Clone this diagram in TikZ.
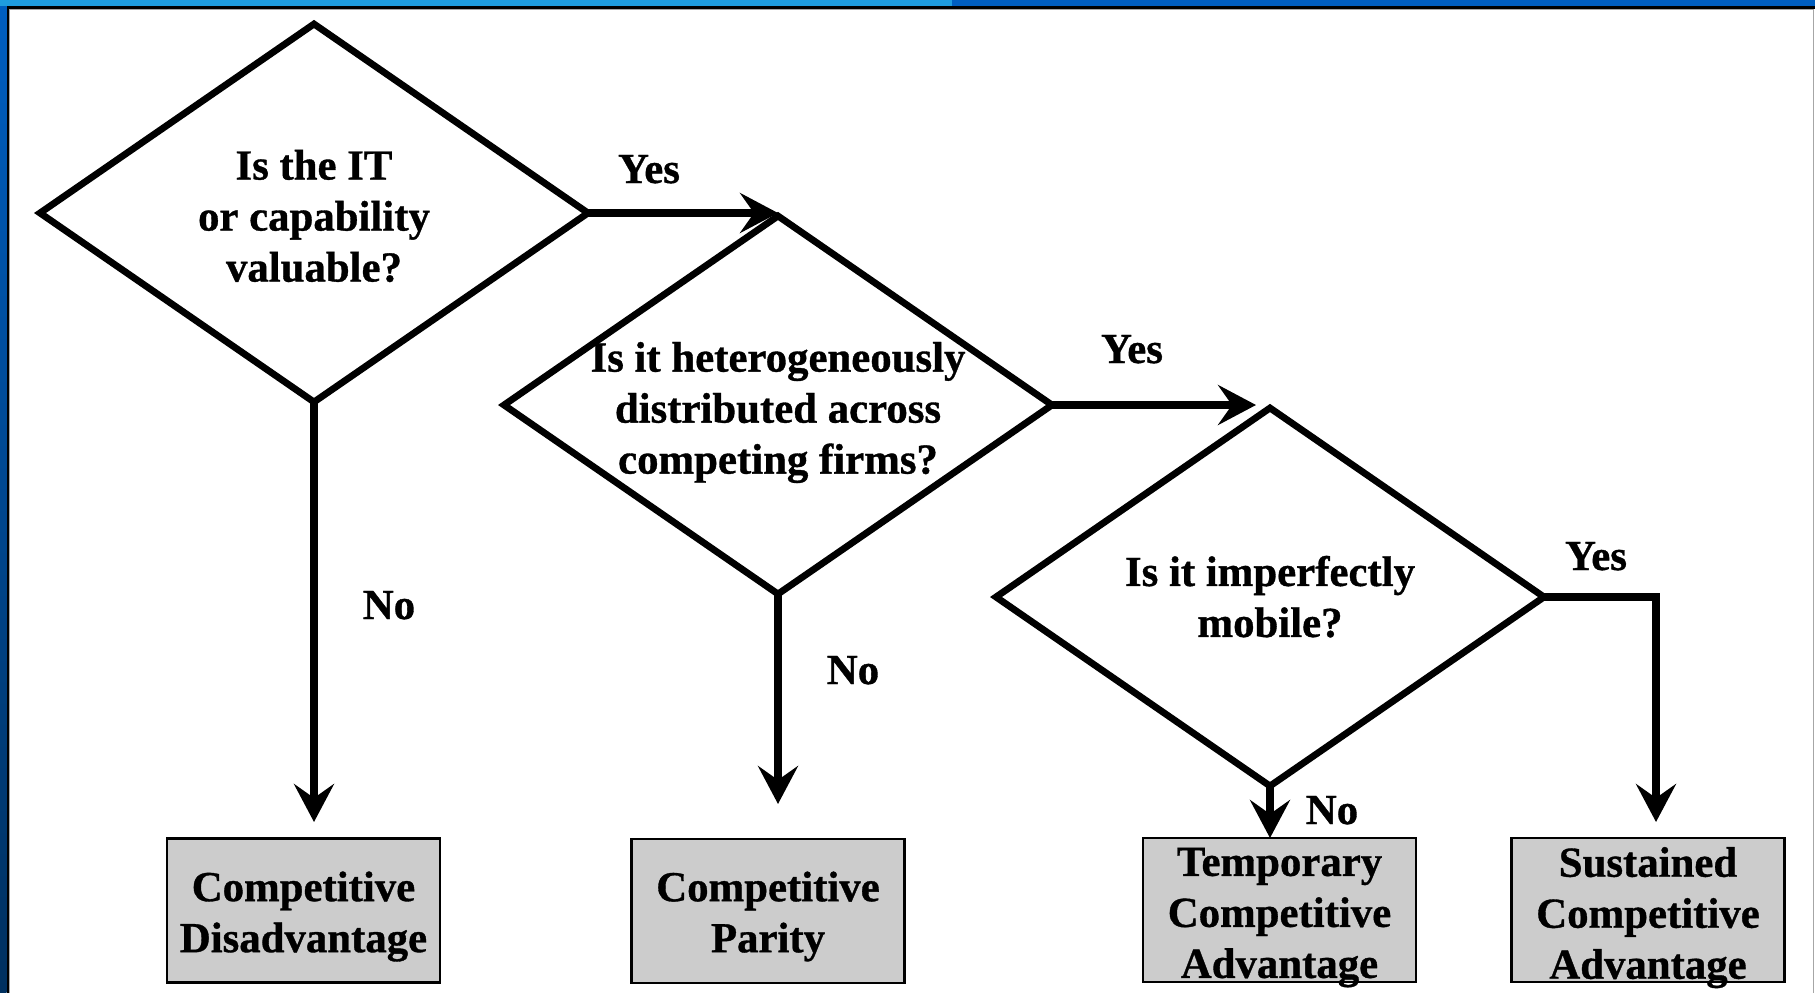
\documentclass[tikz,border=0pt]{standalone}
\usepackage{fontspec}
\setmainfont[BoldFeatures={FakeBold=0.8}]{Liberation Serif}
\usetikzlibrary{arrows.meta,shapes.geometric}

\definecolor{stripcyan}{HTML}{1E9CDF}
\definecolor{stripblue}{HTML}{005EC0}
\definecolor{stripnavy}{HTML}{00305F}
\definecolor{boxgray}{HTML}{CCCCCC}

\begin{document}
\begin{tikzpicture}[x=1pt,y=-1pt,
  txt/.style={font=\fontsize{42.8}{51}\selectfont\bfseries, inner sep=0pt, align=center},
  decision/.style={draw, shape=diamond, line width=6.8pt, minimum width=548pt,
    minimum height=378pt, inner sep=0pt, outer sep=0pt},
  outcome/.style={draw, line width=2.6pt, fill=boxgray, minimum width=273pt,
    minimum height=144pt, inner sep=0pt, outer sep=0pt},
  flow/.style={line width=8pt, -{Stealth[length=38pt,width=40pt,inset=14pt]}}]

% page and window frame
\useasboundingbox (0,0) rectangle (1815,993);
\fill[white] (0,0) rectangle (1815,993);
\shade[top color=stripblue, bottom color=stripnavy] (0,5.5) rectangle (6.5,993);
\fill[stripcyan] (0,0) rectangle (952,5.5);
\fill[stripblue] (952,0) rectangle (1815,5.5);
\fill[black] (6.5,5.5) rectangle (1815,8.5);
\fill[black] (6.5,5.5) rectangle (9,993);
\draw[gray!70, line width=1pt] (9.5,993) -- (9.5,9) -- (1813.5,9) -- (1813.5,993);

% decisions
\node[decision] (q1) at (314,213) {};
\node[decision] (q2) at (778,405) {};
\node[decision] (q3) at (1270,597) {};
\node[txt] (q1t) at (314,216) {Is the IT\\or capability\\valuable?};
\node[txt] (q2t) at (778,412.5) {Is it heterogeneously\\distributed across\\competing firms?};
\node[txt] (q3t) at (1270,596.7) {Is it imperfectly\\mobile?};

% outcomes
\node[outcome] (b1) at (303.5,910.5) {};
\node[outcome] (b2) at (768,911) {};
\node[outcome] (b3) at (1279.5,910) {};
\node[outcome] (b4) at (1648,910) {};
\node[txt] (b1t) at (303.5,916.5) {Competitive\\Disadvantage};
\node[txt] (b2t) at (768,916.5) {Competitive\\Parity};
\node[txt] (b3t) at (1279.5,917.6) {Temporary\\Competitive\\Advantage};
\node[txt] (b4t) at (1648,917.6) {Sustained\\Competitive\\Advantage};

% arrow end points above the outcomes
\coordinate (e1) at (313,822);
\coordinate (e2) at (775.5,804);
\coordinate (e4) at (1656,822);
\coordinate (e23) at (1256,405);

% connectors
\draw[flow] (q1.east) -- (q1.east -| q2.north);
\draw[flow] (q2.east) -- (q2.east -| e23);
\draw[flow] (q3.east) -| (e4);
\draw[flow] (q1.south) -- (q1.south |- e1);
\draw[flow] (q2.south) -- (q2.south |- e2);
\draw[flow] (q3.south) -- (q3.south |- b3.north);

% branch labels
\node[txt, anchor=base] (y1) at (649,183) {Yes};
\node[txt, anchor=base] (y2) at (1132,363) {Yes};
\node[txt, anchor=base] (y3) at (1596,570) {Yes};
\node[txt, anchor=base] (n1) at (389,619) {No};
\node[txt, anchor=base] (n2) at (853,684) {No};
\node[txt, anchor=base] (n3) at (1332,824) {No};
\end{tikzpicture}
\end{document}
